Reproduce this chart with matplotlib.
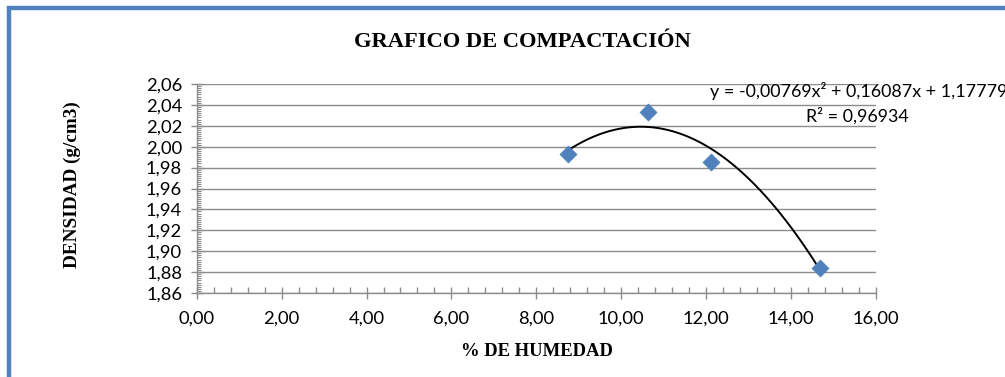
import numpy as np
import matplotlib
matplotlib.use("Agg")
import matplotlib.pyplot as plt
from matplotlib.patches import Rectangle
from matplotlib.ticker import MultipleLocator, FuncFormatter

# ensayo proctor: humedad (%) vs densidad seca (g/cm3)
humedad = [8.75, 10.62, 12.12, 14.68]
densidad = [1.9927, 2.0329, 1.9854, 1.8840]

# coeficientes de la curva de ajuste (polinomio de grado 2)
coef = [-0.00769, 0.16087, 1.17779]
r2 = 0.96934

titulo = "GRAFICO DE COMPACTACIÓN"
xlab = "% DE HUMEDAD"
ylab = "DENSIDAD (g/cm3)"

tick_font = "Lato"
serif = "Liberation Serif"

fig = plt.figure(figsize=(10.05, 3.77), dpi=100)
ax = fig.add_axes([196.7 / 1005, 1 - 293 / 377, (876 - 196.7) / 1005, (293 - 84) / 377])

# marco azul del grafico
fig.patches.append(Rectangle((9.3 / 1005, -0.1), 1.2, (377 - 7.5) / 377 + 0.1,
                             transform=fig.transFigure, fill=False,
                             edgecolor="#4F81BD", linewidth=3.2))

ax.set_xlim(0, 16)
ax.set_ylim(1.86, 2.06)
ax.yaxis.set_major_locator(MultipleLocator(0.02))
ax.yaxis.set_minor_locator(MultipleLocator(0.002))
ax.xaxis.set_major_locator(MultipleLocator(2))
ax.xaxis.set_minor_locator(MultipleLocator(0.4))
ax.xaxis.set_major_formatter(FuncFormatter(lambda v, p: f"{v:.2f}".replace(".", ",")))
ax.yaxis.set_major_formatter(FuncFormatter(lambda v, p: f"{v:.2f}".replace(".", ",")))

ax.grid(axis="y", color="#8c8c8c", linewidth=1.0)
ax.set_axisbelow(True)
for s in ["top", "right"]:
    ax.spines[s].set_visible(False)
for s in ["left", "bottom"]:
    ax.spines[s].set_color("#8c8c8c")
    ax.spines[s].set_linewidth(1.0)

ax.tick_params(axis="both", which="major", direction="inout", length=9, width=1.0,
               color="#8c8c8c", labelsize=13.2)
ax.tick_params(axis="x", which="minor", direction="in", length=4, width=1.0, color="#8c8c8c")
ax.tick_params(axis="y", which="minor", direction="in", length=3, width=0.8, color="#8c8c8c")
for lab in ax.get_xticklabels() + ax.get_yticklabels():
    lab.set_family(tick_font)
ax.tick_params(axis="x", pad=8)
ax.tick_params(axis="y", pad=6)

# curva de tendencia
xs = np.linspace(min(humedad), max(humedad), 200)
ax.plot(xs, np.polyval(coef, xs), color="black", linewidth=1.4, zorder=3)

ax.scatter(humedad, densidad, marker="D", s=75, color="#4F81BD", zorder=4,
           edgecolors="#4F81BD", linewidths=0.5)

fig.text(522 / 1005, 1 - 42 / 377, titulo, ha="center", va="center",
         family=serif, weight="bold", fontsize=16.2)
fig.text(537 / 1005, 1 - 351 / 377, xlab, ha="center", va="center",
         family=serif, weight="bold", fontsize=13.4)
fig.text(72 / 1005, 1 - 185 / 377, ylab, ha="center", va="center", rotation=90,
         family=serif, weight="bold", fontsize=13.8)

eq = "y = " + f"{coef[0]:.5f}".replace(".", ",") + "x² + " + \
     f"{coef[1]:.5f}".replace(".", ",") + "x + " + f"{coef[2]:.5f}".replace(".", ",")
fig.text(1007 / 1005, 1 - 91 / 377, eq, ha="right", va="center", family=tick_font, fontsize=12.9)
fig.text(909 / 1005, 1 - 116 / 377, "R² = " + f"{r2:.5f}".replace(".", ","),
         ha="right", va="center", family=tick_font, fontsize=12.9)

fig.savefig("out.png", dpi=100)
